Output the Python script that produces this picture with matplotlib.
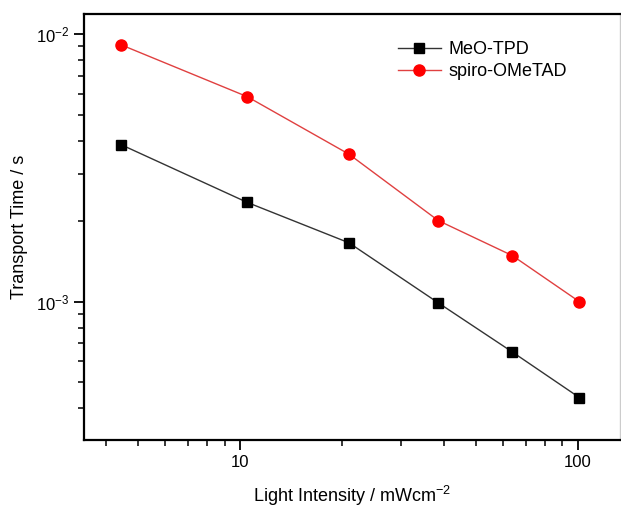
import numpy as np
import matplotlib
matplotlib.use('Agg')
import matplotlib.pyplot as plt
from matplotlib.ticker import LogLocator, NullFormatter, FixedLocator, FixedFormatter

plt.rcParams['font.family'] = ['Liberation Sans', 'DejaVu Sans']
plt.rcParams['mathtext.fontset'] = 'custom'
plt.rcParams['mathtext.rm'] = 'Liberation Sans'

intensity = [4.45, 10.5, 21, 38.6, 64, 101]
meo_tpd = [3.86e-3, 2.35e-3, 1.66e-3, 9.9e-4, 6.48e-4, 4.38e-4]
spiro = [9.12e-3, 5.84e-3, 3.56e-3, 2.01e-3, 1.486e-3, 1.0e-3]

fig = plt.figure(figsize=(6.21, 5.08), dpi=100)
ax = fig.add_axes([0.1353, 0.1339, 0.8627, 0.8385])

ax.plot(intensity, meo_tpd, color='#333333', lw=1.0, marker='s', ms=7,
        mfc='black', mec='black', label='MeO-TPD')
ax.plot(intensity, spiro, color='#e04040', lw=1.0, marker='o', ms=8,
        mfc='#ff0000', mec='#ff0000', label='spiro-OMeTAD')

ax.set_xscale('log')
ax.set_yscale('log')
ax.set_xlim(3.45, 133)
ax.set_ylim(3.04e-4, 1.19e-2)

ax.xaxis.set_major_locator(FixedLocator([10, 100]))
ax.xaxis.set_major_formatter(FixedFormatter(['10', '100']))
ax.xaxis.set_minor_locator(LogLocator(base=10, subs=np.arange(2, 10)))
ax.xaxis.set_minor_formatter(NullFormatter())
ax.yaxis.set_minor_locator(LogLocator(base=10, subs=np.arange(2, 10)))
ax.yaxis.set_minor_formatter(NullFormatter())

ax.tick_params(which='major', direction='out', length=7, width=1.3, labelsize=12)
ax.tick_params(which='minor', direction='out', length=4, width=1.1)
ax.tick_params(axis='both', which='both', top=False, right=False)

for side in ['left', 'bottom', 'top']:
    ax.spines[side].set_linewidth(1.6)
ax.spines['right'].set_linewidth(1.0)
ax.spines['right'].set_color('#cccccc')

ax.set_xlabel('Light Intensity / mWcm$^{-2}$', fontsize=13, labelpad=10)
ax.set_ylabel('Transport Time / s', fontsize=13, labelpad=6)

ax.legend(loc='upper left', bbox_to_anchor=(0.555, 0.975), frameon=False,
          fontsize=13, handlelength=2.4, handletextpad=0.4, labelspacing=0.3)

fig.savefig('out.png', dpi=100)
